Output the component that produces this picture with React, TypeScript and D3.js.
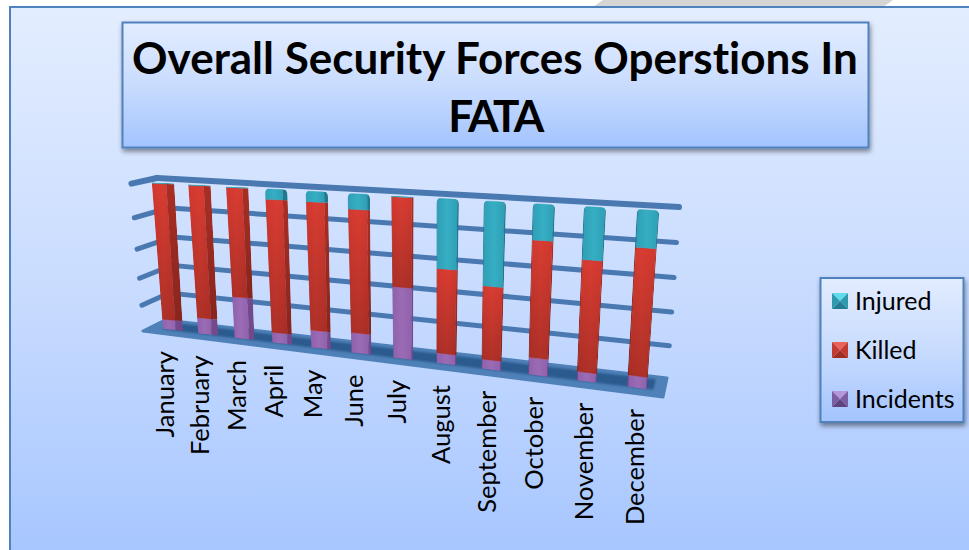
import React from "react";
import * as d3 from "d3";

const months = ["January", "February", "March", "April", "May", "June", "July", "August", "September", "October", "November", "December"];
// share of each month's total, in percent
const incidents = [7, 11, 28, 7, 11.5, 13, 45, 6.5, 6, 10.5, 5.5, 7];
const killed = [92.5, 88.5, 71.5, 86.5, 82, 77.5, 54.5, 52, 44.5, 69, 65, 72.5];
const injured = [0.5, 0.5, 0.5, 6.5, 6.5, 9.5, 0.5, 41.5, 49.5, 20.5, 29.5, 20.5];
const gridTicks = [0, 20, 40, 60, 80, 100];
const legendNames = ["Injured", "Killed", "Incidents"];

type Pt = [number, number];

const seriesKeys = ["incidents", "killed", "injured"];
const shades: Record<string, { base: string; light: string; dark: string }> = {
  incidents: { base: "#8f62ab", light: "#9c6bb6", dark: "#74498c" },
  killed: { base: "#d2382e", light: "#d93d32", dark: "#a92e24" },
  injured: { base: "#2f9fb6", light: "#36aec3", dark: "#1f7a8e" },
};
const legendBevels: Record<string, string[]> = {
  Injured: ["#5fdcec", "#2e9ab0", "#217e92", "#2e9ab0"],
  Killed: ["#ea625a", "#c23a30", "#a02e26", "#c23a30"],
  Incidents: ["#b596dc", "#7d5da1", "#5f4381", "#7d5da1"],
};

// maps the unit square onto four picture corners, so the walls keep their perspective
function homography(p00: Pt, p10: Pt, p11: Pt, p01: Pt) {
  const dx1 = p10[0] - p11[0], dx2 = p01[0] - p11[0], sx = p00[0] - p10[0] + p11[0] - p01[0];
  const dy1 = p10[1] - p11[1], dy2 = p01[1] - p11[1], sy = p00[1] - p10[1] + p11[1] - p01[1];
  const den = dx1 * dy2 - dx2 * dy1;
  const g = (sx * dy2 - dx2 * sy) / den;
  const h = (dx1 * sy - sx * dy1) / den;
  const a = p10[0] - p00[0] + g * p10[0], b = p01[0] - p00[0] + h * p01[0];
  const d = p10[1] - p00[1] + g * p10[1], e = p01[1] - p00[1] + h * p01[1];
  return (u: number, v: number): Pt => {
    const w = g * u + h * v + 1;
    return [(a * u + b * v + p00[0]) / w, (d * u + e * v + p00[1]) / w];
  };
}

const barPlane = homography([173, 330], [637, 388], [648, 210], [163, 183]);
const backWall = homography([165, 320], [667, 379], [679, 207], [157, 178]);
const sideWall = homography([143, 331], [165, 320], [157, 178], [130, 184]);
const floor = homography([143, 331], [663, 397], [667, 378], [165, 320]);

const uScale = d3.scalePoint<string>().domain(months).range([0, 1]);
const vScale = d3.scaleLinear().domain([0, 100]).range([0, 1]);
const halfWidth = d3.scaleLinear().domain([0, 1]).range([10, 11.2]);
const sideDark = d3.scaleLinear().domain([0, 0.55, 1]).range([0.36, 0.08, 0.04]);
const leftDark = d3.scaleLinear().domain([0, 0.55, 1]).range([0, 0.02, 0.06]);
const labelShift = d3.scaleLinear().domain([0, 0.4, 1]).range([1, 1.5, 7]);

const table = months.map((m, i) => ({ month: m, incidents: incidents[i], killed: killed[i], injured: injured[i] }));
const stacked = d3.stack<any>().keys(seriesKeys)(table);

const line = d3.line<Pt>();

// a point across the bar: t runs from the left edge (0) to the right edge (1)
function barPoint(u: number, v: number, t: number): Pt {
  const side = t * 2 - 1;
  return [barPlane(u, v)[0] + side * halfWidth(v), barPlane(u + side * 0.02, v)[1]];
}

function strip(u: number, v0: number, v1: number, t0: number, t1: number) {
  return line([barPoint(u, v0, t0), barPoint(u, v1, t0), barPoint(u, v1, t1), barPoint(u, v0, t1)])! + "Z";
}

function barOutline(u: number, rounded: boolean) {
  const bl = barPoint(u, 0, 0), br = barPoint(u, 0, 1), tl = barPoint(u, 1, 0), tr = barPoint(u, 1, 1);
  if (!rounded) return line([bl, tl, tr, br])! + "Z";
  const r = 5;
  return (
    `M${bl}L${tl[0]},${tl[1] + r}Q${tl[0]},${tl[1] - 1} ${tl[0] + r * 1.3},${tl[1] - 1}` +
    `L${tr[0] - r * 1.3},${tr[1] - 1}Q${tr[0]},${tr[1] - 1} ${tr[0]},${tr[1] + r}L${br}Z`
  );
}

export default function App() {
  const floorOuter = line([floor(0, 0), floor(1, 0), floor(1, 1), floor(0, 1)])! + "Z";
  const floorInner = line([floor(0.03, 0.3), floor(0.985, 0.3), floor(0.985, 0.86), floor(0.06, 0.86)])! + "Z";

  return (
    <svg width={969} height={550} style={{ position: "fixed", left: 0, top: 0, background: "#fff" }}>
      <defs>
        <linearGradient id="panelFill" x1="0" y1="0" x2="0" y2="1">
          <stop offset="0" stopColor="#e3edff" />
          <stop offset="0.5" stopColor="#c9dcff" />
          <stop offset="1" stopColor="#a5c5ff" />
        </linearGradient>
        <linearGradient id="boxFill" x1="0" y1="0" x2="0" y2="1">
          <stop offset="0" stopColor="#e2ecff" />
          <stop offset="0.5" stopColor="#c9dcfe" />
          <stop offset="1" stopColor="#a3c4ff" />
        </linearGradient>
        <linearGradient id="killedShade" x1="0" y1="0" x2="0" y2="1">
          <stop offset="0" stopColor="#000" stopOpacity="0" />
          <stop offset="1" stopColor="#000" stopOpacity="0.2" />
        </linearGradient>
        <filter id="boxShadow" x="-10%" y="-10%" width="120%" height="125%">
          <feDropShadow dx="1" dy="3" stdDeviation="2.5" floodColor="#000" floodOpacity="0.45" />
        </filter>
        <filter id="soft" x="-5%" y="-30%" width="110%" height="160%">
          <feGaussianBlur stdDeviation="1" />
        </filter>
        {seriesKeys.map((k) => (
          <linearGradient key={k} id={`face-${k}`} x1="0" y1="0" x2="1" y2="0">
            <stop offset="0" stopColor={shades[k].base} />
            <stop offset="0.5" stopColor={shades[k].light} />
            <stop offset="1" stopColor={shades[k].base} />
          </linearGradient>
        ))}
        {months.map((m, i) => (
          <clipPath key={m} id={`bar-${i}`}>
            <path d={barOutline(uScale(m)!, injured[i] > 2)} />
          </clipPath>
        ))}
      </defs>

      <path d="M603,0L893,0L883,7L593,7Z" fill="#d5d5d5" />
      <rect x={10} y={7} width={975} height={560} fill="url(#panelFill)" stroke="#4f81bd" strokeWidth={2} />

      <rect x={122.5} y={22.5} width={746} height={125} fill="url(#boxFill)" stroke="#4f81bd" strokeWidth={2} filter="url(#boxShadow)" />
      <g fontFamily="Lato" fontWeight={700} fontSize={44} textAnchor="middle" fill="#000" style={{ fontVariantLigatures: "none" }}>
        <text x={495} y={74}>Overall Security Forces Operstions In</text>
        <text x={495} y={132} letterSpacing={-2.5}>FATA</text>
      </g>

      <g stroke="#4a79b2" strokeLinecap="round" fill="none">
        {gridTicks.filter((t) => t > 0).map((t) => (
          <g key={t} strokeWidth={t === 100 ? 6 : 5}>
            <path d={line([sideWall(0.05, vScale(t)), sideWall(1, vScale(t))])!} />
            <path d={line([backWall(0, vScale(t)), backWall(1, vScale(t))])!} />
          </g>
        ))}
      </g>

      <path d={floorOuter} fill="#4f81b8" stroke="#4f81b8" strokeWidth={3} strokeLinejoin="round" />
      <path d={floorInner} fill="#2a5a8e" filter="url(#soft)" />

      {stacked.map((s) =>
        s.map((d, i) => {
          const u = uScale(months[i])!;
          const v0 = vScale(d[0]), v1 = vScale(d[1]);
          const ld = leftDark(u), rd = sideDark(u);
          const k = s.key;
          return (
            <g key={k + i} clipPath={`url(#bar-${i})`}>
              <path d={strip(u, v0, v1, ld, 1 - rd)} fill={`url(#face-${k})`} stroke={shades[k].base} strokeWidth={0.4} />
              <path d={strip(u, v0, v1, 0, ld)} fill={shades[k].dark} />
              <path d={strip(u, v0, v1, 1 - rd, 1)} fill={shades[k].dark} />
              {k === "killed" && <path d={strip(u, v0, v1, 0, 1)} fill="url(#killedShade)" />}
            </g>
          );
        })
      )}

      <g fontFamily="Lato" fontSize={25.5} fill="#000" textAnchor="end" style={{ fontVariantLigatures: "none" }}>
        {months.map((m) => {
          const u = uScale(m)!;
          const base = barPlane(u, 0);
          return (
            <text key={m} transform={`translate(${base[0] + labelShift(u)},${base[1] + 21}) rotate(-90)`}>{m}</text>
          );
        })}
      </g>

      <rect x={820.5} y={278} width={143} height={144} fill="url(#boxFill)" stroke="#4f81bd" strokeWidth={2} filter="url(#boxShadow)" />
      {legendNames.map((name, i) => {
        const y = 293 + i * 49;
        const x = 832;
        const s = 16;
        const rim: Pt[] = [[x, y], [x + s, y], [x + s, y + s], [x, y + s]];
        return (
          <g key={name}>
            {legendBevels[name].map((c, j) => (
              <path key={j} d={line([rim[j], rim[(j + 1) % 4], [x + s / 2, y + s / 2]])! + "Z"} fill={c} />
            ))}
            <text x={855} y={y + 17} fontFamily="Lato" fontSize={25} fill="#000">{name}</text>
          </g>
        );
      })}
    </svg>
  );
}
